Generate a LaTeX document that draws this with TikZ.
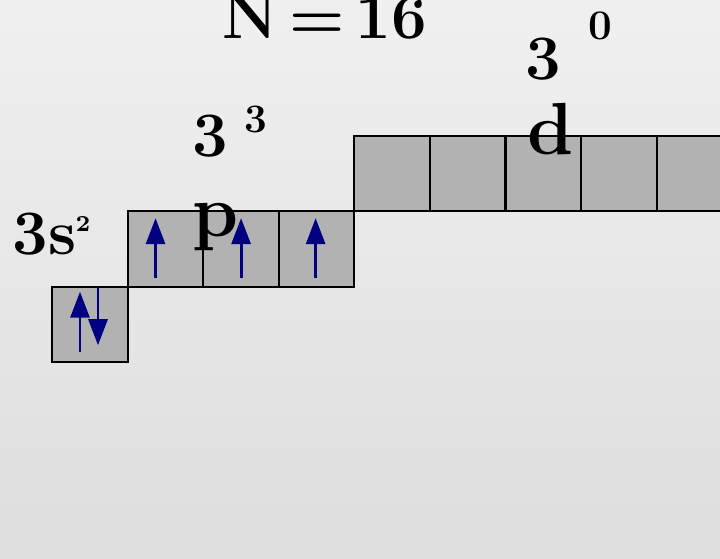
\documentclass[tikz,border=0pt]{standalone}
\usetikzlibrary{arrows.meta,positioning}

\begin{document}
\begin{tikzpicture}[
  x=0.01cm, y=-0.01cm,
  node distance=0pt,
  orbital/.style={draw=black, line width=0.6pt, fill=gray!60, minimum size=0.755cm, inner sep=0pt, outer sep=0pt},
  spin/.style={-{Triangle[width=0.19cm, length=0.26cm]}, line width=0.85pt, draw=blue!50!black},
  lbl/.style={anchor=base west, inner sep=0pt, font=\fontsize{18}{20}\selectfont\bfseries},
  sup/.style={anchor=base west, inner sep=0pt, font=\fontsize{11.5}{13}\selectfont\bfseries}
]
\shade[top color=gray!12, bottom color=gray!26] (0,0) rectangle (720,559);
\useasboundingbox (0,0) rectangle (720,559);
\clip (0,0) rectangle (720,559);
% orbital boxes
\node[orbital] (s) at (90,324.5) {};
\node[orbital, above right=of s] (p1) {};
\node[orbital, right=of p1] (p2) {};
\node[orbital, right=of p2] (p3) {};
\node[orbital, above right=of p3] (d1) {};
\node[orbital, right=of d1] (d2) {};
\node[orbital, right=of d2] (d3) {};
\node[orbital, right=of d3] (d4) {};
\node[orbital, right=of d4] (d5) {};
% electrons
\draw[spin] ([shift={(-10,-10)}]s.south) -- ([shift={(-10,5)}]s.north);
\draw[spin] ([shift={(8,0)}]s.north) -- ([shift={(8,-17)}]s.south);
\draw[spin] ([shift={(-10,-9)}]p1.south) -- ([shift={(-10,7)}]p1.north);
\draw[spin] ([shift={(0,-9)}]p2.south) -- ([shift={(0,7)}]p2.north);
\draw[spin] ([shift={(-1,-9)}]p3.south) -- ([shift={(-1,7)}]p3.north);
% labels
\node[lbl] (title) at (222,39) {N\hspace{0.11cm}=\hspace{0.11cm}16};
\node[lbl] (ls) at (12,255) {3s};
\node[sup, font=\fontsize{6.5}{8}\selectfont\bfseries] (ls2) at (75,232) {2};
\node[lbl] (lp) at (192,157) {3};
\node[sup] (lp3) at (244,133) {3};
\node[lbl, font=\fontsize{21}{23}\selectfont\bfseries] (lpp) at (192,237) {p};
\node[lbl] (ld) at (525,80) {3};
\node[sup, font=\fontsize{12}{14}\selectfont\bfseries] (ld0) at (588,40) {0};
\node[lbl, font=\fontsize{21}{23}\selectfont\bfseries] (ldd) at (527,155) {d};
\end{tikzpicture}
\end{document}
